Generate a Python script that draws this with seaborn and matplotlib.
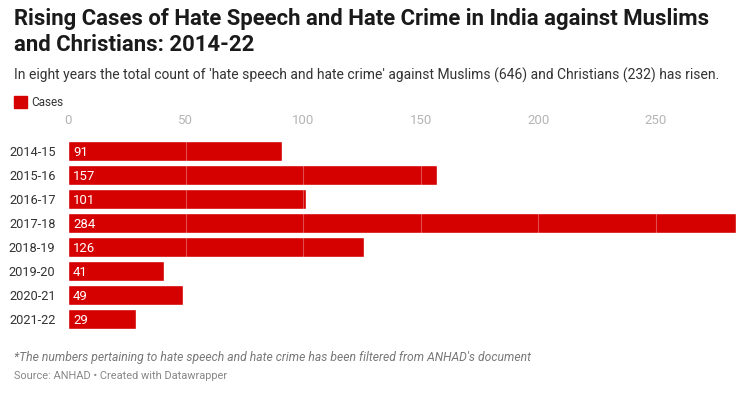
"""
Rising cases of hate speech and hate crime in India, 2014-22 (Datawrapper-style bar chart).
"""
import matplotlib
matplotlib.use("Agg")
import matplotlib.pyplot as plt
import pandas as pd
import seaborn as sns

YEARS = ["2014-15", "2015-16", "2016-17", "2017-18", "2018-19", "2019-20", "2020-21", "2021-22"]
CASES = [91, 157, 101, 284, 126, 41, 49, 29]
TICKS = [0, 50, 100, 150, 200, 250]

TITLE = "Rising Cases of Hate Speech and Hate Crime in India against Muslims\nand Christians: 2014-22"
SUBTITLE = ("In eight years the total count of 'hate speech and hate crime' against "
            "Muslims (646) and Christians (232) has risen.")
NOTE = "*The numbers pertaining to hate speech and hate crime has been filtered from ANHAD's document"
SOURCE = "Source: ANHAD \u2022 Created with Datawrapper"

RED = "#d50000"

sns.set_theme(style="white")
plt.rcParams["font.family"] = ["Roboto", "DejaVu Sans"]

df = pd.DataFrame({"year": YEARS, "cases": CASES})

fig = plt.figure(figsize=(7.56, 3.93), dpi=100)
W, H = 756, 393
ax = fig.add_axes([68 / W, 1 - 331 / H, (736 - 68) / W, 192 / H])

sns.barplot(data=df, x="cases", y="year", color=RED, saturation=1, width=0.83, ax=ax)
ax.set_xlim(0, 284)
ax.set_ylim(len(YEARS) - 0.5, -0.5)

# faint gridlines show only across the bars
for x in TICKS[1:]:
    ax.axvline(x, color="white", alpha=0.3, lw=0.8, zorder=5)

for i, v in enumerate(CASES):
    ax.text(2.2, i, str(v), color="white", va="center_baseline", ha="left",
            fontsize=9.5, zorder=6)

ax.set_xticks(TICKS)
ax.xaxis.tick_top()
ax.tick_params(axis="x", length=0, pad=9, labelsize=9.5, labelcolor="#b5b5b5")
ax.tick_params(axis="y", length=0, pad=9, labelsize=9.2, labelcolor="#333333")
ax.set_xlabel("")
ax.set_ylabel("")
sns.despine(ax=ax, left=True, bottom=True, top=True, right=True)

fig.text(14 / W, 1 - 8 / H, TITLE, fontsize=15.9, fontweight="bold", color="#1a1a1a",
         va="top", ha="left", linespacing=1.22)
fig.text(14 / W, 1 - 75 / H, SUBTITLE, fontsize=10.0, color="#333333", va="center", ha="left")
fig.patches.append(plt.Rectangle((14 / W, 1 - 108 / H), 13 / W, 12 / H, color=RED,
                                 transform=fig.transFigure, figure=fig))
fig.text(31 / W, 1 - 102 / H, "Cases", fontsize=8.5, color="#333333", va="center", ha="left")
fig.text(14 / W, 1 - 357 / H, NOTE, fontsize=8.75, style="italic", color="#777777",
         va="center", ha="left")
fig.text(14 / W, 1 - 376 / H, SOURCE, fontsize=7.9, color="#888888", va="center", ha="left")

fig.savefig("out.png", dpi=100)
